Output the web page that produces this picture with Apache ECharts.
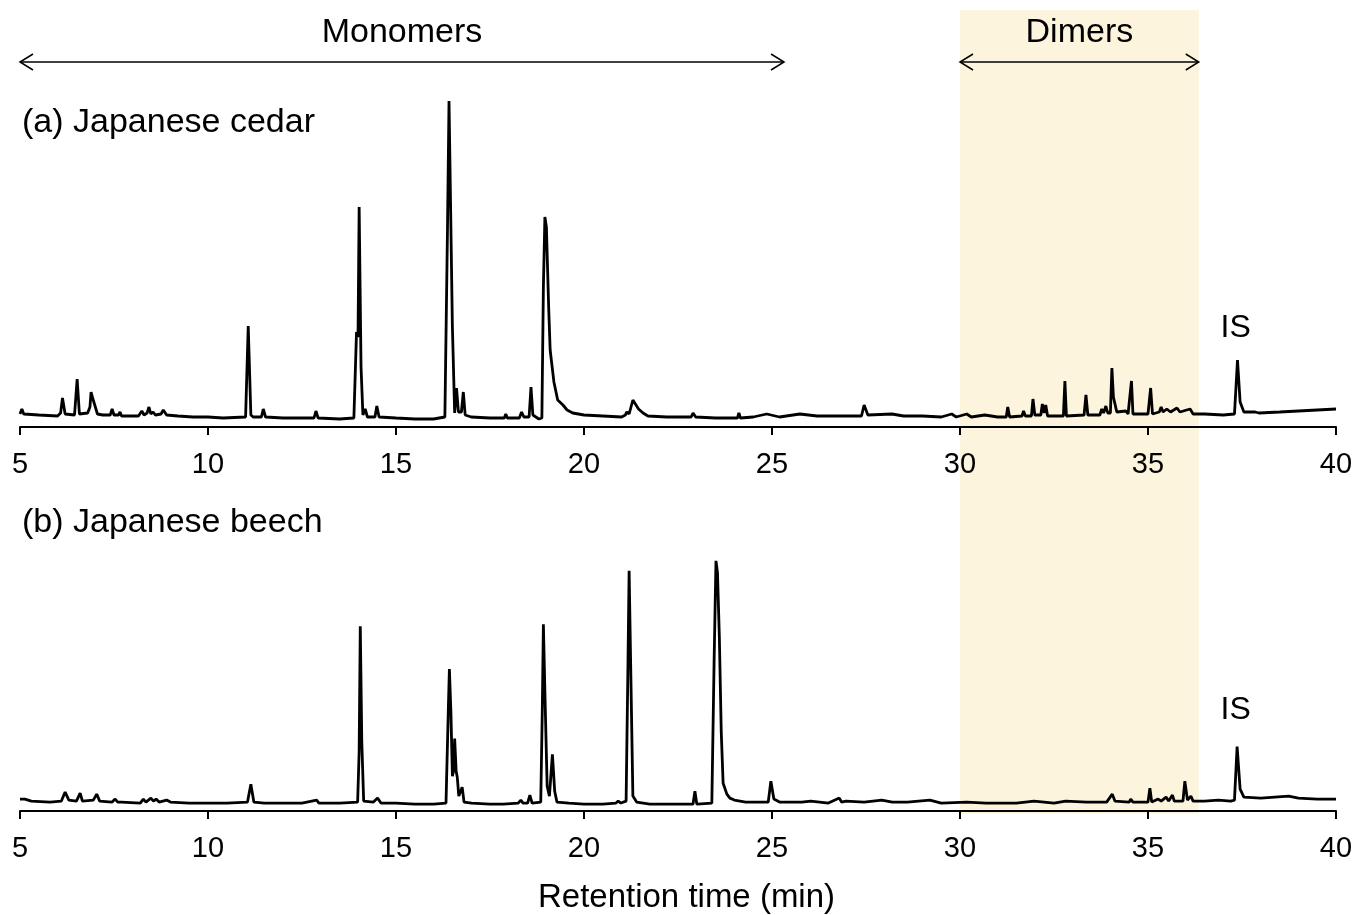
<!DOCTYPE html>
<html>
<head>
<meta charset="utf-8">
<script src="https://cdn.jsdelivr.net/npm/echarts/dist/echarts.min.js"></script>
<style>
  html, body { margin: 0; padding: 0; background: #fff; }
  #chart { width: 1356px; height: 915px; }
</style>
</head>
<body>
<div id="chart"></div>
<script>
// retention time axis
const timeMin = 5
const timeMax = 40
const timeStep = 5

// bracketed regions on top of the plot
const monomerRange = [5, 25.32]
const dimerRange = [30, 36.35]
const regionNames = ['Monomers', 'Dimers']
const panelNames = ['(a) Japanese cedar', '(b) Japanese beech']

// internal standard peak label position [time, signal]
const isLabelCedar = [37.33, 99]
const isLabelBeech = [37.33, 102]

// (a) Japanese cedar, [time (min), signal]
const cedarTrace = [
  [5.0,13],[5.05,18],[5.1,13],[5.5,12],[6.0,11],[6.08,14],[6.13,29],[6.2,13],[6.45,12],[6.52,48],[6.58,13],
  [6.8,14],[6.86,20],[6.89,35],[6.94,28],[6.99,29],[7.06,13],[7.2,12],[7.4,12],[7.45,18],[7.5,12],[7.62,12],[7.66,15],
  [7.7,11],[8.15,11],[8.24,16],[8.3,12],[8.38,14],[8.43,20],[8.48,13],[8.54,15],[8.6,12],[8.75,13],[8.81,17],
  [8.9,12],[9.2,11],[9.6,10],[10.0,10],[10.4,9],[11.0,10],[11.07,101],[11.14,12],[11.2,10],[11.42,10],[11.47,18],
  [11.53,10],[12.0,9],[12.5,9],[12.82,9],[12.87,16],[12.93,9],[13.5,8],[13.88,9],[13.95,95],[13.99,90],[14.02,220],
  [14.07,60],[14.12,12],[14.18,18],[14.24,10],[14.44,10],[14.49,21],[14.55,10],[15.0,9],[15.5,8],[16.0,8],
  [16.3,10],[16.37,200],[16.41,326],[16.45,326],[16.5,100],[16.56,14],[16.61,39],[16.66,15],[16.74,15],[16.79,35],
  [16.84,12],[17.0,10],[17.5,9],[17.88,9],[17.92,13],[17.96,9],[18.28,9],[18.34,15],[18.4,10],[18.54,10],
  [18.59,40],[18.64,12],[18.8,8],[18.88,9],[18.92,140],[18.96,210],[19.0,200],[19.06,120],[19.1,77],[19.2,45],
  [19.3,27],[19.44,22],[19.55,17],[19.7,14],[20.0,12],[20.5,11],[21.0,10],[21.1,12],[21.14,15],[21.2,13],
  [21.3,27],[21.33,29],[21.45,18],[21.57,14],[21.7,11],[22.2,10],[22.85,10],[22.9,14],[22.97,10],[23.5,9],
  [24.08,9],[24.12,14],[24.16,9],[24.5,10],[24.86,13],[25.2,10],[25.74,13],[26.2,11],[26.8,11],[27.38,11],
  [27.45,22],[27.55,12],[28.19,13],[28.5,11],[29.0,11],[29.5,10],[29.78,13],[29.9,10],[30.18,13],[30.3,10],
  [30.66,12],[31.0,10],[31.23,10],[31.27,20],[31.32,10],[31.65,11],[31.69,16],[31.74,11],[31.9,11],[31.94,28],
  [31.99,12],[32.15,12],[32.19,23],[32.24,14],[32.28,22],[32.33,11],[32.75,11],[32.79,46],[32.83,11],[33.3,12],
  [33.35,32],[33.4,12],[33.72,12],[33.77,18],[33.82,14],[33.88,21],[33.93,14],[34.0,14],[34.04,59],[34.08,30],
  [34.12,28],[34.17,15],[34.41,16],[34.47,13],[34.52,12],[34.56,46],[34.6,13],[35.0,13],[35.07,39],[35.12,13],
  [35.3,15],[35.35,20],[35.4,15],[35.5,18],[35.6,15],[35.77,19],[35.85,15],[36.12,18],[36.2,13],[36.5,13],
  [37.0,12],[37.3,13],[37.38,67],[37.45,25],[37.55,15],[37.85,15],[37.95,14],[38.5,15],[39.0,16],[39.5,17],[40.0,18]
]

// (b) Japanese beech, [time (min), signal]
const beechTrace = [
  [5.0,12],[5.13,12],[5.3,10],[5.8,9],[6.1,10],[6.2,19],[6.3,11],[6.5,10],[6.6,18],[6.66,10],[6.95,11],[7.04,17],
  [7.12,10],[7.45,9],[7.53,12],[7.6,9],[7.7,9],[7.73,10],[8.2,8],[8.28,12],[8.35,9],[8.48,13],[8.55,10],[8.62,12],
  [8.7,9],[8.9,11],[9.0,9],[9.5,8],[10.0,8],[10.5,8],[11.05,9],[11.14,27],[11.22,9],[11.5,8],[12.0,8],[12.5,8],
  [12.89,11],[12.95,8],[13.23,8],[13.5,8],[13.98,9],[14.02,60],[14.05,186],[14.09,70],[14.14,10],[14.4,9],
  [14.51,13],[14.6,8],[15.0,8],[15.5,7],[16.0,7],[16.33,8],[16.39,100],[16.42,143],[16.46,100],[16.5,35],
  [16.53,40],[16.56,73],[16.6,40],[16.63,34],[16.67,15],[16.72,15],[16.76,24],[16.81,9],[17.01,8],[17.5,7],
  [17.85,7],[18.25,8],[18.32,11],[18.38,8],[18.5,8],[18.56,16],[18.62,8],[18.85,9],[18.89,100],[18.92,188],
  [18.96,120],[19.02,25],[19.08,15],[19.16,57],[19.22,20],[19.28,9],[19.6,8],[20.0,7],[20.25,7],[20.5,7],
  [20.85,8],[20.91,10],[20.98,8],[21.12,10],[21.17,150],[21.2,242],[21.24,150],[21.3,15],[21.4,9],[21.75,7],
  [22.2,7],[22.53,7],[22.9,7],[22.95,20],[23.0,7],[23.4,8],[23.46,150],[23.51,252],[23.55,240],[23.6,175],
  [23.65,80],[23.7,28],[23.8,17],[23.88,13],[24.0,11],[24.3,9],[24.9,9],[24.97,30],[25.05,12],[25.2,9],
  [25.79,9],[26.03,10],[26.5,8],[26.79,13],[26.85,9],[26.97,10],[27.45,9],[27.92,11],[28.2,9],[28.6,9],
  [29.2,11],[29.5,8],[30.18,9],[30.69,8],[31.5,8],[31.97,10],[32.5,8],[32.81,10],[33.37,9],[33.9,9],[34.05,17],
  [34.12,10],[34.5,9],[34.54,12],[34.6,9],[35.0,9],[35.05,23],[35.1,9],[35.27,12],[35.35,10],[35.48,14],
  [35.55,10],[35.65,16],[35.7,10],[35.93,10],[35.98,30],[36.05,11],[36.14,15],[36.2,10],[36.5,10],[36.87,11],
  [37.2,10],[37.3,11],[37.37,65],[37.45,22],[37.55,14],[38.0,13],[38.74,15],[39.0,13],[39.5,12],[40.0,12]
]

const font = 'Liberation Sans, Arial, sans-serif'

function timeAxis(grid, extra) {
  return Object.assign({
    type: 'value',
    gridIndex: grid,
    min: timeMin,
    max: timeMax,
    interval: timeStep,
    z: 5,
    axisLine: { lineStyle: { color: '#000', width: 2 } },
    axisTick: { length: 8, lineStyle: { color: '#000', width: 2 } },
    axisLabel: { color: '#000', fontSize: 29, fontFamily: font, margin: 23 },
    splitLine: { show: false }
  }, extra || {})
}

function trace(data, idx) {
  return {
    type: 'line',
    xAxisIndex: idx,
    yAxisIndex: idx,
    data: data,
    showSymbol: false,
    symbol: 'none',
    silent: true,
    z: 6,
    lineStyle: { color: '#000', width: 2.8 }
  }
}

let myChart = echarts.init(document.getElementById('chart'))
let option = {
  animation: false,
  backgroundColor: '#fff',
  grid: [
    { left: 20, right: 20, top: 87, height: 340 },
    { left: 20, right: 20, top: 473.5, height: 340 },
    { left: 20, right: 20, top: 10, height: 803.5 }
  ],
  xAxis: [
    timeAxis(0),
    timeAxis(1, {
      name: 'Retention time (min)',
      nameLocation: 'middle',
      nameGap: 70,
      nameTextStyle: { color: '#000', fontSize: 33, fontFamily: font, padding: [0, 0, 0, 17] }
    }),
    { type: 'value', gridIndex: 2, min: timeMin, max: timeMax, show: false }
  ],
  yAxis: [
    { type: 'value', gridIndex: 0, min: 0, max: 340, show: false },
    { type: 'value', gridIndex: 1, min: 0, max: 340, show: false },
    { type: 'value', gridIndex: 2, min: 0, max: 1, show: false }
  ],
  series: [
    trace(cedarTrace, 0),
    trace(beechTrace, 1),
    {
      // shaded dimer window spanning both panels
      type: 'line',
      xAxisIndex: 2,
      yAxisIndex: 2,
      data: [],
      z: -10,
      silent: true,
      markArea: {
        z: -10,
        silent: true,
        itemStyle: { color: '#fcf4dd' },
        data: [[{ xAxis: dimerRange[0] }, { xAxis: dimerRange[1] }]]
      }
    }
  ]
}
myChart.setOption(option)

// arrows and text labels, placed with the axis scales
function arrow(range, y) {
  const a = myChart.convertToPixel({ xAxisIndex: 2 }, range[0])
  const b = myChart.convertToPixel({ xAxisIndex: 2 }, range[1])
  const st = { stroke: '#000', lineWidth: 1.5, fill: null }
  return [
    { type: 'line', z: 20, shape: { x1: a, y1: y, x2: b, y2: y }, style: st },
    { type: 'polyline', z: 20, shape: { points: [[a + 13, y - 8], [a, y], [a + 13, y + 8]] }, style: st },
    { type: 'polyline', z: 20, shape: { points: [[b - 13, y - 8], [b, y], [b - 13, y + 8]] }, style: st }
  ]
}
function label(text, x, y, size, align) {
  return {
    type: 'text',
    x: x,
    y: y,
    z: 20,
    style: {
      text: text,
      fill: '#000',
      font: size + 'px ' + font,
      textAlign: align || 'center',
      textVerticalAlign: 'middle'
    }
  }
}
const mid = r => myChart.convertToPixel({ xAxisIndex: 2 }, (r[0] + r[1]) / 2)
const isA = myChart.convertToPixel({ xAxisIndex: 0, yAxisIndex: 0 }, isLabelCedar)
const isB = myChart.convertToPixel({ xAxisIndex: 1, yAxisIndex: 1 }, isLabelBeech)
const left = myChart.convertToPixel({ xAxisIndex: 2 }, timeMin)

let graphics = []
  .concat(arrow(monomerRange, 62))
  .concat(arrow(dimerRange, 62))
graphics.push(label(regionNames[0], mid(monomerRange), 33, 34))
graphics.push(label(regionNames[1], mid(dimerRange), 33, 34))
graphics.push(label(panelNames[0], left + 2, 123, 34, 'left'))
graphics.push(label(panelNames[1], left + 2, 523, 34, 'left'))
graphics.push(label('IS', isA[0], isA[1], 32))
graphics.push(label('IS', isB[0], isB[1], 32))
myChart.setOption({ graphic: graphics })
</script>
</body>
</html>
